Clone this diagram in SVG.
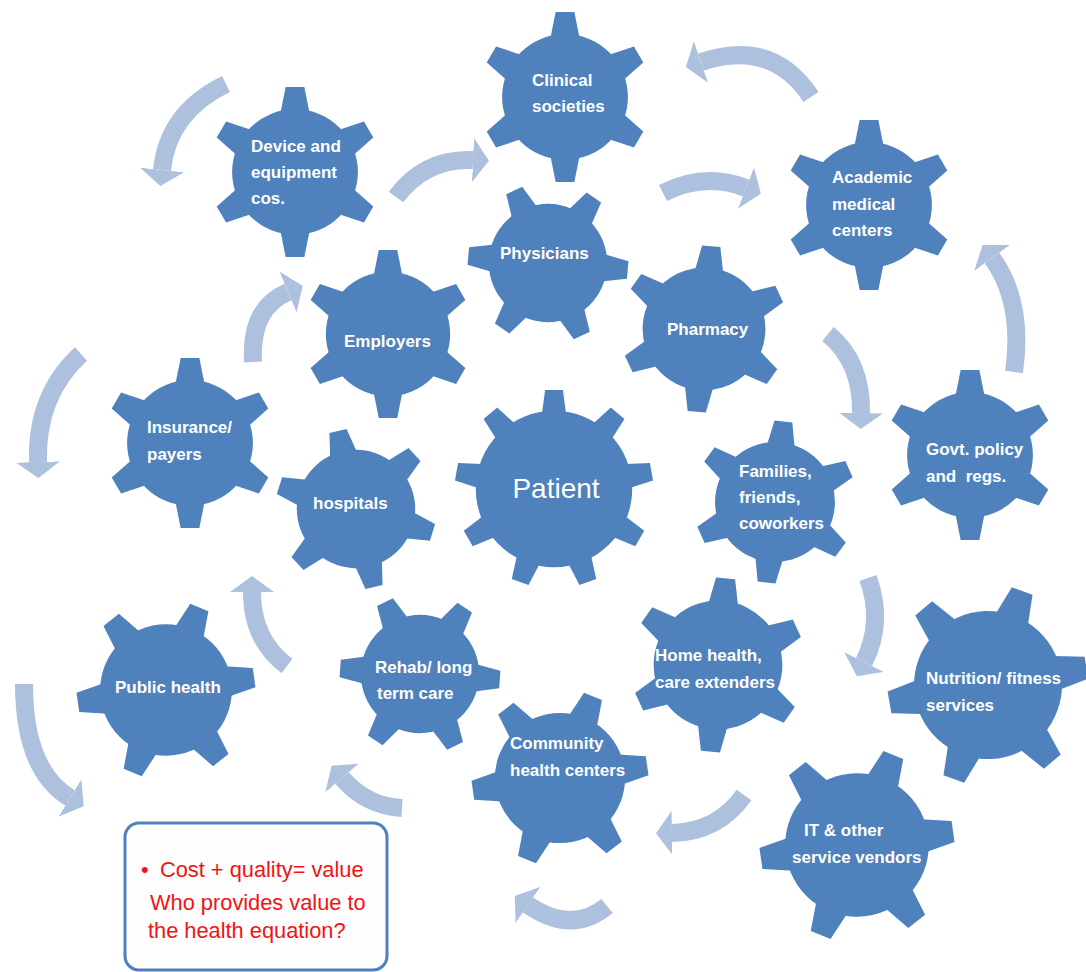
<svg xmlns="http://www.w3.org/2000/svg" width="1086" height="972" viewBox="0 0 1086 972">
  <style>
    .gear { fill: #4f81bd; }
    .lbl { font-family: "Liberation Sans", Arial, sans-serif; font-weight: bold; font-size: 17px; fill: #ffffff; }
    .big { font-family: "Liberation Sans", Arial, sans-serif; font-size: 28px; fill: #ffffff; }
    .flow { fill: none; stroke: #adc0dd; stroke-width: 18; marker-end: url(#head); }
    .note { font-family: "Liberation Sans", Arial, sans-serif; font-size: 21.8px; fill: #f01414; }
  </style>
  <defs>
    <marker id="head" markerUnits="userSpaceOnUse" viewBox="0 0 16 44" markerWidth="16" markerHeight="44" refX="0" refY="22" orient="auto">
      <path d="M0,0 L16,22 L0,44 Z" fill="#adc0dd"/>
    </marker>
    <!-- six-tooth gear, outer radius 100 -->
    <polygon id="tooth6" points="-19,-60 -11,-100 11,-100 19,-60"/>
    <g id="gear6">
      <circle r="74"/>
      <use href="#tooth6"/>
      <use href="#tooth6" transform="rotate(60)"/>
      <use href="#tooth6" transform="rotate(120)"/>
      <use href="#tooth6" transform="rotate(180)"/>
      <use href="#tooth6" transform="rotate(240)"/>
      <use href="#tooth6" transform="rotate(300)"/>
    </g>
    <!-- nine-tooth gear, outer radius 100 -->
    <polygon id="tooth9" points="-13,-70 -9,-100 9,-100 13,-70"/>
    <g id="gear9">
      <circle r="79"/>
      <use href="#tooth9"/>
      <use href="#tooth9" transform="rotate(40)"/>
      <use href="#tooth9" transform="rotate(80)"/>
      <use href="#tooth9" transform="rotate(120)"/>
      <use href="#tooth9" transform="rotate(160)"/>
      <use href="#tooth9" transform="rotate(200)"/>
      <use href="#tooth9" transform="rotate(240)"/>
      <use href="#tooth9" transform="rotate(280)"/>
      <use href="#tooth9" transform="rotate(320)"/>
    </g>
  </defs>

  <rect width="1086" height="972" fill="#ffffff"/>

  <!-- curved flow arrows -->
  <g id="connectors">
    <path class="flow" d="M226,84 Q168,112 162,170"/>
    <path class="flow" d="M253,362 Q250,308 288,292"/>
    <path class="flow" d="M396,197 Q425,158 473,160"/>
    <path class="flow" d="M811,97 Q772,38 701,62"/>
    <path class="flow" d="M663,193 Q705,172 746,188"/>
    <path class="flow" d="M828,334 Q862,362 861,413"/>
    <path class="flow" d="M1014,372 Q1024,302 992,258"/>
    <path class="flow" d="M868,578 Q884,622 864,662"/>
    <path class="flow" d="M744,795 Q718,832 672,833"/>
    <path class="flow" d="M607,906 Q572,935 528,905"/>
    <path class="flow" d="M402,808 Q366,806 342,778"/>
    <path class="flow" d="M287,666 Q252,640 252,592"/>
    <path class="flow" d="M24,684 Q24,770 70,798"/>
    <path class="flow" d="M81,354 Q36,395 38,462"/>
  </g>

  <g id="device">
    <use href="#gear6" class="gear" transform="translate(295 172) scale(0.85)"/>
    <text class="lbl"><tspan x="251" y="152">Device and</tspan><tspan x="251" y="178">equipment</tspan><tspan x="251" y="204">cos.</tspan></text>
  </g>
  <g id="clinical">
    <use href="#gear6" class="gear" transform="translate(565 97) scale(0.85)"/>
    <text class="lbl"><tspan x="532" y="86">Clinical</tspan><tspan x="532" y="112">societies</tspan></text>
  </g>
  <g id="physicians">
    <use href="#gear6" class="gear" transform="translate(548 263) rotate(35) scale(0.8)"/>
    <text class="lbl" x="500" y="259">Physicians</text>
  </g>
  <g id="employers">
    <use href="#gear6" class="gear" transform="translate(388 334) scale(0.84)"/>
    <text class="lbl" x="344" y="347">Employers</text>
  </g>
  <g id="pharmacy">
    <use href="#gear6" class="gear" transform="translate(704 329) rotate(5) scale(0.83)"/>
    <text class="lbl" x="667" y="335">Pharmacy</text>
  </g>
  <g id="academic">
    <use href="#gear6" class="gear" transform="translate(869 205) scale(0.85)"/>
    <text class="lbl"><tspan x="832" y="183">Academic</tspan><tspan x="832" y="210">medical</tspan><tspan x="832" y="236">centers</tspan></text>
  </g>
  <g id="govt">
    <use href="#gear6" class="gear" transform="translate(970 455) scale(0.85)"/>
    <text class="lbl" xml:space="preserve"><tspan x="926" y="455">Govt. policy</tspan><tspan x="926" y="482">and  regs.</tspan></text>
  </g>
  <g id="families">
    <use href="#gear6" class="gear" transform="translate(775 502) rotate(6) scale(0.81)"/>
    <text class="lbl"><tspan x="739" y="477">Families,</tspan><tspan x="739" y="503">friends,</tspan><tspan x="739" y="529">coworkers</tspan></text>
  </g>
  <g id="insurance">
    <use href="#gear6" class="gear" transform="translate(190 443) scale(0.85)"/>
    <text class="lbl"><tspan x="147" y="433">Insurance/</tspan><tspan x="147" y="460">payers</tspan></text>
  </g>
  <g id="hospitals">
    <use href="#gear6" class="gear" transform="translate(356 509) rotate(47) scale(0.8)"/>
    <text class="lbl" x="313" y="509">hospitals</text>
  </g>
  <g id="patient">
    <use href="#gear9" class="gear" transform="translate(554 489) scale(0.99)"/>
    <text class="big" x="556" y="498" text-anchor="middle">Patient</text>
  </g>
  <g id="rehab">
    <use href="#gear6" class="gear" transform="translate(420 674) rotate(34) scale(0.8)"/>
    <text class="lbl"><tspan x="375" y="673">Rehab/ long</tspan><tspan x="377" y="699">term care</tspan></text>
  </g>
  <g id="community">
    <use href="#gear6" class="gear" transform="translate(560 778) rotate(22) scale(0.88)"/>
    <text class="lbl"><tspan x="510" y="749">Community</tspan><tspan x="510" y="776">health centers</tspan></text>
  </g>
  <g id="home-health">
    <use href="#gear6" class="gear" transform="translate(718 665) rotate(5) scale(0.87)"/>
    <text class="lbl"><tspan x="655" y="661">Home health,</tspan><tspan x="655" y="688">care extenders</tspan></text>
  </g>
  <g id="nutrition">
    <use href="#gear6" class="gear" transform="translate(988 685) rotate(20) scale(1)"/>
    <text class="lbl"><tspan x="926" y="684">Nutrition/ fitness</tspan><tspan x="926" y="711">services</tspan></text>
  </g>
  <g id="it-vendors">
    <use href="#gear6" class="gear" transform="translate(857 845) rotate(22) scale(0.97)"/>
    <text class="lbl"><tspan x="804" y="836">IT &amp; other</tspan><tspan x="792" y="863">service vendors</tspan></text>
  </g>
  <g id="public-health">
    <use href="#gear6" class="gear" transform="translate(166 690) rotate(22) scale(0.89)"/>
    <text class="lbl" x="115" y="693">Public health</text>
  </g>

  <g id="value-note">
    <rect x="125" y="823" width="262" height="147" rx="14" fill="#fdfdfd" stroke="#4f81bd" stroke-width="3"/>
    <text class="note" x="141" y="877">•</text>
    <text class="note" x="160" y="877">Cost + quality= value</text>
    <text class="note" x="150" y="910">Who provides value to</text>
    <text class="note" x="148" y="938">the health equation?</text>
  </g>
</svg>
